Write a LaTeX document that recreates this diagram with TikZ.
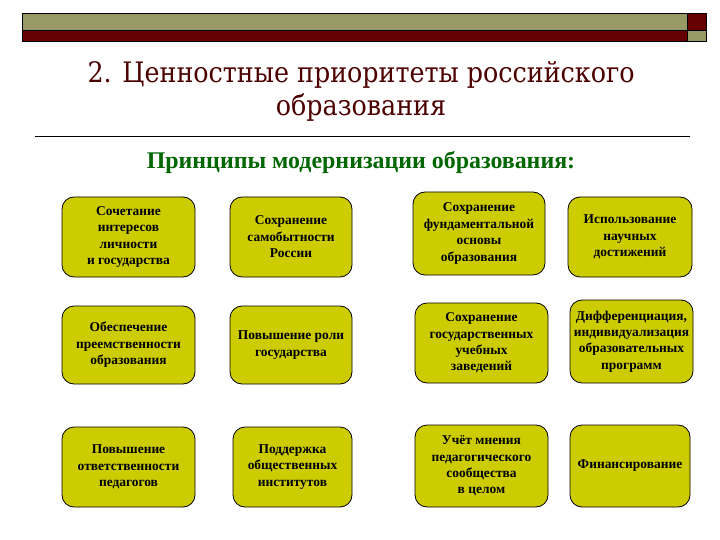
\documentclass[tikz,border=0pt]{standalone}
\usepackage{fontspec}
\setmainfont{Liberation Serif}
\newfontfamily\titlefont{DejaVu Serif Condensed}
\definecolor{olivebar}{RGB}{153,153,102}
\definecolor{darkredbar}{RGB}{102,0,0}
\definecolor{titlered}{RGB}{77,0,0}
\definecolor{subgreen}{RGB}{0,102,0}
\definecolor{boxfill}{RGB}{204,204,0}
\tikzset{
  pbox/.style={draw=black, line width=0.8bp, fill=boxfill, rounded corners=12bp, inner sep=0pt, align=center,
    font=\rmfamily\bfseries\fontsize{13.5}{16.5}\selectfont},
}
\begin{document}
\begin{tikzpicture}[x=1bp,y=-1bp]
\useasboundingbox (0,0) rectangle (720,540);
\fill[white] (0,0) rectangle (720,540);
% header bar
\draw[fill=olivebar, line width=0.8bp] (22,13) rectangle (687,30);
\draw[fill=darkredbar, line width=0.8bp] (22,30) rectangle (687,41);
\draw[fill=darkredbar, line width=0.5bp] (687,13) rectangle (706,30);
\draw[fill=olivebar, line width=0.5bp] (687,30) rectangle (706,41);
% title
\node[text=titlered, font=\titlefont\fontsize{28.3}{33}\selectfont, align=center] (title) at (361,91)
  {2. Ценностные приоритеты российского\\образования};
\coordinate (la) at (35,137);
\coordinate (lb) at (690,137);
\draw[line width=1bp] (la) -- (lb);
\node[text=subgreen, font=\rmfamily\bfseries\fontsize{24}{26}\selectfont] (sub) at (361,162)
  {Принципы модернизации образования:};
% boxes
\node[pbox, minimum width=133bp, minimum height=80bp] (b11) at (128.5,237) {Сочетание\\интересов\\личности\\и государства};
\node[pbox, minimum width=122bp, minimum height=80bp] (b12) at (291,237) {Сохранение\\самобытности\\России};
\node[pbox, minimum width=132bp, minimum height=83bp] (b13) at (479,233.5) {Сохранение\\фундаментальной\\основы\\образования};
\node[pbox, minimum width=124bp, minimum height=80bp] (b14) at (630,237) {Использование\\научных\\достижений};
\node[pbox, minimum width=133bp, minimum height=78bp] (b21) at (128.5,345) {Обеспечение\\преемственности\\образования};
\node[pbox, minimum width=122bp, minimum height=78bp] (b22) at (291,345) {Повышение роли\\государства};
\node[pbox, minimum width=133bp, minimum height=80bp] (b23) at (481.5,343) {Сохранение\\государственных\\учебных\\заведений};
\node[pbox, minimum width=123bp, minimum height=83bp] (b24) at (631.5,341.5) {Дифференциация,\\индивидуализация\\образовательных\\программ};
\node[pbox, minimum width=133bp, minimum height=80bp] (b31) at (128.5,467) {Повышение\\ответственности\\педагогов};
\node[pbox, minimum width=119bp, minimum height=80bp] (b32) at (292.5,467) {Поддержка\\общественных\\институтов};
\node[pbox, minimum width=133bp, minimum height=82bp] (b33) at (481.5,466) {Учёт мнения\\педагогического\\сообщества\\в целом};
\node[pbox, minimum width=120bp, minimum height=82bp] (b34) at (630,466) {Финансирование};
\end{tikzpicture}
\end{document}
